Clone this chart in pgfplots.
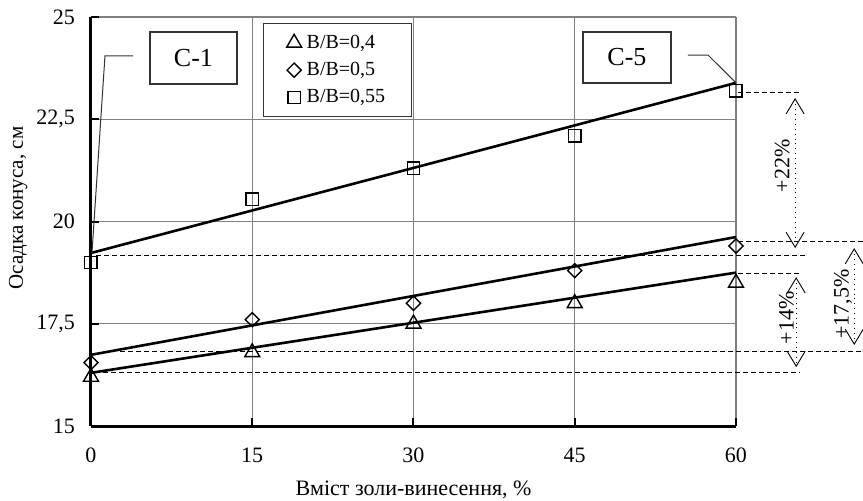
\documentclass[border=0pt]{standalone}
\usepackage{fontspec}
\setmainfont{Liberation Serif}
\usepackage{pgfplots}
\pgfplotsset{compat=1.18}
\usetikzlibrary{arrows.meta}
\begin{document}
\begin{tikzpicture}
\useasboundingbox (-45.5pt,-37pt) rectangle (386pt,213pt);
\begin{axis}[
  scale only axis, width=322.5pt, height=204.5pt,
  xmin=0, xmax=60, ymin=15, ymax=25,
  xtick={0,15,30,45,60}, ytick={15,17.5,20,22.5,25},
  axis x line=bottom, axis y line=left,
  axis line style={line width=1.5pt, -},
  grid=major, grid style={gray, line width=0.6pt},
  tick align=inside, major tick length=4pt,
  tick style={black, line width=1pt},
  /pgf/number format/use comma, /pgf/number format/assume math mode=true,
  ticklabel style={font=\fontsize{11}{13}\selectfont},
  yticklabel style={xshift=-4.5pt},
  xticklabel style={yshift=-7.5pt},
  xlabel={Вміст золи-винесення, \%},
  ylabel={Осадка конуса, см},
  xlabel style={at={(axis description cs:0.5,-0.1565)}, anchor=center, font=\fontsize{11}{13}\selectfont},
  ylabel style={at={(axis description cs:-0.113,0.533)}, anchor=center, font=\fontsize{10.5}{12.5}\selectfont},
  clip=false,
  legend cell align=left,
  legend image code/.code={\draw[#1] plot coordinates {(0.15cm,0cm)};\path[draw=none,fill=none] (0cm,0cm) -- (0.3cm,0cm);},
  legend style={at={(axis cs:16,24.85)}, anchor=north west, draw=black!80, line width=0.6pt,
    font=\fontsize{10}{11.5}\selectfont, inner xsep=11pt, inner ysep=3.5pt, row sep=1.5pt,
    /tikz/every even column/.append style={column sep=1pt}},
]
% trend lines
\addplot[black, line width=1.3pt, forget plot] coordinates {(0,19.23) (60,23.39)};
\addplot[black, line width=1.3pt, forget plot] coordinates {(0,16.74) (60,19.62)};
\addplot[black, line width=1.3pt, forget plot] coordinates {(0,16.30) (60,18.75)};
% dashed reference lines
\addplot[black, line width=0.5pt, dash pattern=on 2.5pt off 1.5pt, forget plot] coordinates {(0.5,19.18) (66.4,19.18)};
\addplot[black, line width=0.5pt, dash pattern=on 2.5pt off 1.5pt, forget plot] coordinates {(60.2,23.15) (66.1,23.15)};
\addplot[black, line width=0.5pt, dash pattern=on 2.5pt off 1.5pt, forget plot] coordinates {(60.2,19.50) (71.8,19.50)};
\addplot[black, line width=0.5pt, dash pattern=on 2.5pt off 1.5pt, forget plot] coordinates {(60.2,18.74) (66.1,18.74)};
\addplot[black, line width=0.5pt, dash pattern=on 2.5pt off 1.5pt, forget plot] coordinates {(2.7,16.81) (71.8,16.81)};
\addplot[black, line width=0.5pt, dash pattern=on 2.5pt off 1.5pt, forget plot] coordinates {(0.4,16.30) (66.0,16.30)};
% dimension arrows
\addplot[black, line width=0.45pt, dotted, {Straight Barb[length=7.5pt,width=9pt]}-{Straight Barb[length=7.5pt,width=9pt]}, forget plot] coordinates {(65.5,23.02) (65.5,19.35)};
\addplot[black, line width=0.45pt, dotted, {Straight Barb[length=7.5pt,width=9pt]}-{Straight Barb[length=7.5pt,width=9pt]}, forget plot] coordinates {(65.6,18.64) (65.6,16.44)};
\addplot[black, line width=0.45pt, dotted, {Straight Barb[length=7.5pt,width=9pt]}-{Straight Barb[length=7.5pt,width=9pt]}, forget plot] coordinates {(71.0,19.35) (71.0,16.98)};
% leader lines
\addplot[black!80, line width=0.5pt, forget plot] coordinates {(3.91,24.05) (1.30,24.05) (0.09,19.23)};
\addplot[black!80, line width=0.5pt, forget plot] coordinates {(55.53,24.07) (57.4,24.07) (60,23.39)};
% data
\addplot[only marks, mark=triangle, mark size=4.3pt, mark options={black, line width=0.7pt, fill=white}]
  coordinates {(0,16.2) (15,16.8) (30,17.5) (45,18.0) (60,18.5)};
\addlegendentry{В/В=0,4}
\addplot[only marks, mark=square, mark size=2.5pt, mark options={black, line width=0.7pt, fill=white, rotate=45}]
  coordinates {(0,16.55) (15,17.6) (30,18.0) (45,18.8) (60,19.4)};
\addlegendentry{В/В=0,5}
\addplot[only marks, mark=square, mark size=3.1pt, mark options={black, line width=0.7pt, fill=white}]
  coordinates {(0,19.0) (15,20.55) (30,21.3) (45,22.1) (60,23.2)};
\addlegendentry{В/В=0,55}
% callouts
\node[draw=black!80, line width=0.6pt, fill=white, minimum width=43.5pt, minimum height=26pt, inner sep=0pt,
  font=\fontsize{13}{15}\selectfont] at (axis cs:9.53,24.0) {С-1};
\node[draw=black!80, line width=0.6pt, fill=white, minimum width=44pt, minimum height=25.5pt, inner sep=0pt,
  font=\fontsize{13}{15}\selectfont] at (axis cs:49.86,24.01) {С-5};
% percentage labels
\node[rotate=90, font=\fontsize{11}{13}\selectfont] at (axis cs:64.3,21.36) {+22\%};
\node[rotate=90, font=\fontsize{11}{13}\selectfont] at (axis cs:64.7,17.64) {+14\%};
\node[rotate=90, font=\fontsize{11}{13}\selectfont] at (axis cs:69.95,17.98) {+17,5\%};
\end{axis}
\end{tikzpicture}
\end{document}
